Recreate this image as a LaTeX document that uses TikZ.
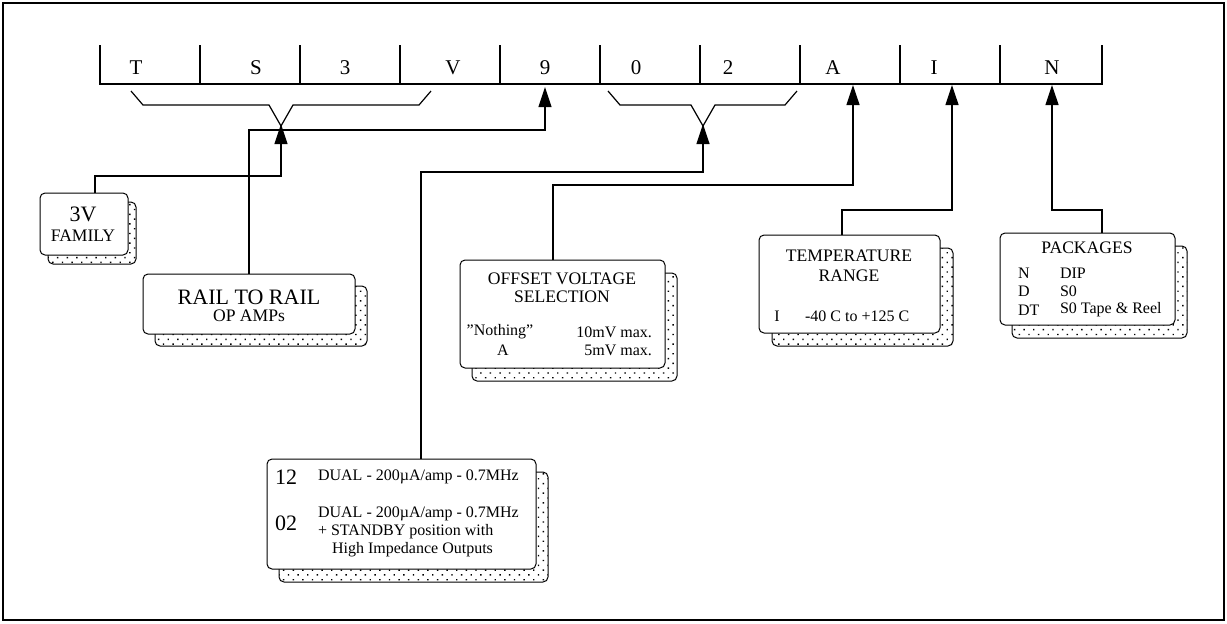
\documentclass[tikz,border=0pt]{standalone}
\usepackage{fontspec}
\setmainfont{Liberation Serif}
\usetikzlibrary{arrows.meta,patterns.meta,shadows}

\tikzset{
	balken/.style={line width=1.3pt},
	verb/.style={line width=0.6pt},
	pfeil/.style={verb, -{Triangle[length=10pt,width=6.5pt]}},
	kasten/.style={draw, line width=0.5pt, fill=white, rounded corners=2.5pt, inner sep=0pt},
	schatten/.style 2 args={general shadow={shadow xshift=#1, shadow yshift=#2, draw, line width=0.5pt,
		pattern={Dots[distance=3.4pt,radius=0.5pt,angle=45]}}},
	buchst/.style={font=\fontsize{10.5}{12}\selectfont},
	gross/.style={font=\fontsize{11}{13}\selectfont},
	mittel/.style={font=\fontsize{8.8}{10}\selectfont},
	klein/.style={font=\fontsize{8}{9.5}\selectfont}
}

\begin{document}
\begin{tikzpicture}[x=0.5pt,y=-0.5pt]
	\useasboundingbox (0,0) rectangle (1227,623);
	\draw[line width=1.3pt] (3,3) rectangle (1224,620);%Rahmen

	%Typenschluessel
	\draw[balken] (100,45) |- (1102,84) -- (1102,45);
	\draw[balken] (200,45) -- (200,84) (300,45) -- (300,84) (400,45) -- (400,84) (500,45) -- (500,84)
		(600,45) -- (600,84) (700,45) -- (700,84) (800,45) -- (800,84) (900,45) -- (900,84) (1000,45) -- (1000,84);
	\node[buchst] (cT) at (136,68) {T};
	\node[buchst] (cS) at (256,68) {S};
	\node[buchst] (c3) at (345,68) {3};
	\node[buchst] (cV) at (453,68) {V};
	\node[buchst] (c9) at (545,68) {9};
	\node[buchst] (c0) at (636,68) {0};
	\node[buchst] (c2) at (728,68) {2};
	\node[buchst] (cA) at (833,68) {A};
	\node[buchst] (cI) at (934,68) {I};
	\node[buchst] (cN) at (1052,68) {N};

	\draw[verb] (131,91) -- (143,105) -- (269,105) -- (281,126) -- (293,105) -- (419,105) -- (431,91);%Klammer TS3V
	\draw[verb] (608,91) -- (620,105) -- (691,105) -- (703,126) -- (715,105) -- (785,105) -- (797,91);%Klammer 02

	%Pfeilspitzen und Knicke
	\coordinate (tTS) at (281,124);
	\coordinate (t9) at (545,87);
	\coordinate (t02) at (703,124);
	\coordinate (tA) at (853,85);
	\coordinate (tI) at (952,85);
	\coordinate (tN) at (1052,85);
	\coordinate (kFam) at (95,176);
	\coordinate (k9) at (545,130);
	\coordinate (k02) at (421,172);
	\coordinate (kA) at (553,185);
	\coordinate (kI) at (842,210);
	\coordinate (kN) at (1102,210);

	%Kaesten
	\node[kasten, schatten={4pt}{-4.5pt}, minimum width=44pt, minimum height=31pt] (fam) at (84,224) {};
	\node[kasten, schatten={6pt}{-6pt}, minimum width=106pt, minimum height=30pt] (rail) at (249,304) {};
	\node[kasten, schatten={6pt}{-6.5pt}, minimum width=102.5pt, minimum height=54pt] (offs) at (562.5,314) {};
	\node[kasten, schatten={6.5pt}{-6.5pt}, minimum width=90.5pt, minimum height=49pt] (temp) at (849.5,284) {};
	\node[kasten, schatten={6pt}{-6.5pt}, minimum width=87.5pt, minimum height=46pt] (pack) at (1087.5,279) {};
	\node[kasten, schatten={6pt}{-6.5pt}, minimum width=134.5pt, minimum height=55pt] (dual) at (401.5,514) {};

	\node[gross] (famA) at (83,214) {3V};
	\node[mittel] (famB) at (83,236) {FAMILY};
	\node[gross] (railA) at (249,297) {RAIL TO RAIL};
	\node[mittel] (railB) at (249,316) {OP AMPs};
	\node[mittel] (offsA) at (562,279) {OFFSET VOLTAGE};
	\node[mittel] (offsB) at (562,297) {SELECTION};
	\node[klein] (offsC) at (500,332) {"Nothing”};
	\node[klein, anchor=east] (offsD) at (659,332) {10mV max.};
	\node[klein] (offsE) at (503,350) {A};
	\node[klein, anchor=east] (offsF) at (659,350) {5mV max.};
	\node[mittel] (tempA) at (849,256) {TEMPERATURE};
	\node[mittel] (tempB) at (849,276) {RANGE};
	\node[klein] (tempC) at (777,316) {I};
	\node[klein, anchor=west] (tempD) at (798,316) {-40 C to +125 C};
	\node[mittel] (packA) at (1087,248) {PACKAGES};
	\node[klein, anchor=west] (packB) at (1011,273) {N};
	\node[klein, anchor=west] (packC) at (1011,291) {D};
	\node[klein, anchor=west] (packD) at (1011,310) {DT};
	\node[klein, anchor=west] (packE) at (1053,273) {DIP};
	\node[klein, anchor=west] (packF) at (1053,291) {S0};
	\node[klein, anchor=west] (packG) at (1053,310) {S0 Tape \& Reel};
	\node[gross] (dualA) at (286,477) {12};
	\node[klein, anchor=west] (dualB) at (311,477) {DUAL - 200µA/amp - 0.7MHz};
	\node[gross] (dualC) at (286,523) {02};
	\node[klein, anchor=west] (dualD) at (311,514) {DUAL - 200µA/amp - 0.7MHz};
	\node[klein, anchor=west] (dualE) at (311,532) {+ STANDBY position with};
	\node[klein, anchor=west] (dualF) at (325,550) {High Impedance Outputs};

	%Verbindungen
	\draw[pfeil] (kFam |- fam.north) -- (kFam) -| (tTS);
	\draw[pfeil] (rail.north) |- (k9) -- (t9);
	\draw[pfeil] (k02 |- dual.north) -- (k02) -| (t02);
	\draw[pfeil] (kA |- offs.north) -- (kA) -| (tA);
	\draw[pfeil] (kI |- temp.north) -- (kI) -| (tI);
	\draw[pfeil] (kN |- pack.north) -- (kN) -| (tN);
\end{tikzpicture}
\end{document}
